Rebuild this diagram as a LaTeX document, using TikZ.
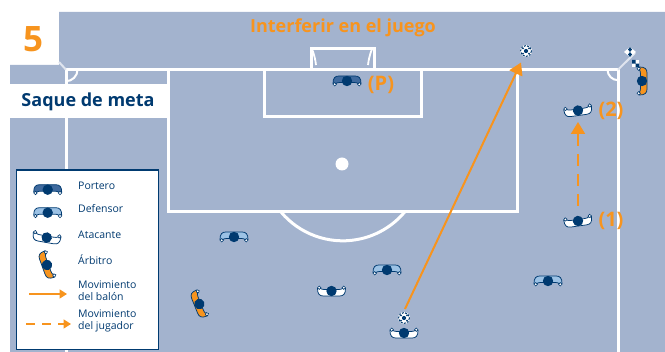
\documentclass[tikz,border=0pt]{standalone}
\usepackage{fontspec}
\setmainfont{Open Sans}
\usetikzlibrary{arrows.meta}
\definecolor{pitch}{HTML}{A3B3CE}
\definecolor{navy}{HTML}{003A70}
\definecolor{org}{HTML}{F7941E}
\definecolor{lblue}{HTML}{9CC2E5}
\definecolor{gkblue}{HTML}{3F6A9E}
\tikzset{
  fieldline/.style={draw=white,line width=3pt},
  lbl/.style={font=\bfseries\fontsize{20}{20}\selectfont,text=org,inner sep=0pt},
  legtext/.style={font=\fontsize{10.5}{12}\selectfont,text=navy,inner sep=0pt,anchor=west,align=left},
  move/.style={draw=org,line width=2pt,-{Triangle[length=12pt,width=14pt]}},
  legmove/.style={draw=org,line width=1.6pt,-{Triangle[length=7.5pt,width=9pt]}},
  flagline/.style={draw=white!65!pitch,line width=2pt},
}
% defender / goalkeeper: x,y,rot,fill
\newcommand{\plyr}[4]{%
 \begin{scope}[shift={(#1,#2)},rotate=#3]
  \path[fill=#4,draw=navy,line width=.75pt] (-14,2.5) .. controls (-14,-3) and (-12,-5) .. (-8,-5) -- (8,-5) .. controls (12,-5) and (14,-3) .. (14,2.5) -- (11,2.5) .. controls (10,1.8) and (9,1.5) .. (7,1.5) -- (-7,1.5) .. controls (-9,1.5) and (-10,1.8) .. (-11,2.5) -- cycle;
  \path[fill=white,draw=navy,line width=.6pt] (-12.3,3.3) circle (1.7) (12.3,3.3) circle (1.7);
  \path[fill=navy] (0,0) circle (5.2);
 \end{scope}}
% attacker / referee: x,y,rot,fill
\newcommand{\atk}[4]{%
 \begin{scope}[shift={(#1,#2)},rotate=#3]
  \path[fill=#4,draw=navy,line width=.75pt] (-14,-2.5) .. controls (-14,3) and (-12,5) .. (-8,5) -- (8,5) .. controls (12,5) and (14,3) .. (14,-2.5) -- (11,-2.5) .. controls (10,-1.8) and (9,-1.5) .. (7,-1.5) -- (-7,-1.5) .. controls (-9,-1.5) and (-10,-1.8) .. (-11,-2.5) -- cycle;
  \path[fill=white,draw=navy,line width=.6pt] (-12.3,-3.3) circle (1.7) (12.3,-3.3) circle (1.7);
  \path[fill=navy] (0,0) circle (5.2);
 \end{scope}}
\newcommand{\ballg}[2]{%
 \begin{scope}[shift={(#1,#2)}]
  \path[fill=white] (0,0) circle (6);
  \path[draw=navy,line width=1pt,dash pattern=on 2pt off 1.3pt] (0,0) circle (5.5);
  \path[fill=navy] (0,0) circle (2.1) (-3,-2.6) circle (1) (3,-2.6) circle (1) (-3,2.6) circle (1) (3,2.6) circle (1);
 \end{scope}}
\begin{document}
\begin{tikzpicture}[x=1pt,y=-1pt]
\useasboundingbox (0,0) rectangle (665,352);
% pitch
\fill[pitch] (59,12) -- (665,12) -- (665,352) -- (10,352) -- (10,65) -- (59,65) -- cycle;
% lines
\draw[fieldline] (66,352) -- (66,69.7) -- (618,69.7) -- (618,352);
\draw[fieldline] (168,69.7) -- (168,211.5) -- (517,211.5) -- (517,69.7);
\draw[fieldline] (264,69.7) -- (264,116.7) -- (421,116.7) -- (421,69.7);
\draw[fieldline] (311,69.7) -- (311,49) -- (374,49) -- (374,69.7);
\draw[draw=white,line width=1.8pt] (312,49) .. controls (314,54) and (315.5,60) .. (316,65);
\draw[draw=white,line width=1.8pt] (372,49) .. controls (370,54) and (368.5,60) .. (368,65);
\draw[draw=white,line width=2pt] (77.5,69.7) arc (0:90:11.5);
\draw[draw=white,line width=2pt] (607.5,69.7) arc (180:90:10.5);
\draw[flagline] (66,69.7) -- (59,62);
\draw[flagline] (618,69.7) -- (635,53);
\draw[fieldline] (281,212) arc (140:40:80.7);
\fill[white] (342,164) circle (6.5);
% header cover
\fill[white] (10,84) rectangle (167,118);
\node[inner sep=0pt,font=\bfseries\fontsize{18}{18}\selectfont,text=navy] (saque) at (88,102) {Saque de meta};
\node[inner sep=0pt,font=\bfseries\fontsize{35}{35}\selectfont,text=org] (num) at (33,39) {5};
\node[inner sep=0pt,font=\bfseries\fontsize{18}{18}\selectfont,text=org] (title) at (343,28) {Interferir en el juego};
% labels
\node[lbl] (p) at (381,85) {(P)};
\node[lbl] (l2) at (611,111) {(2)};
\node[lbl] (l1) at (611,221) {(1)};
% players
\plyr{347}{81}{0}{gkblue}
\plyr{234}{237}{0}{lblue}
\plyr{387}{270}{0}{lblue}
\plyr{548}{281}{0}{lblue}
\atk{331.5}{291}{0}{white}
\atk{404}{333}{0}{white}
\atk{578}{110.5}{8}{white}
\atk{578}{221}{8}{white}
% referees
\atk{199.3}{304}{-68}{org}
\atk{642}{81}{90}{org}
% flag
\fill[white] (630,47) -- (636,52) -- (630,57) -- (624,52) -- cycle;
\fill[navy] (630,47) -- (632,49.5) -- (630,52) -- (628,49.5) -- cycle (630,52) -- (632,54.5) -- (630,57) -- (628,54.5) -- cycle;
\fill[white] (632,60) rectangle (639,67.5);
\fill[navy] (632,60) rectangle (635.5,63.7) (635.5,63.7) rectangle (639,67.5);
% balls
\ballg{526}{51}
\ballg{404}{318}
% moves
\coordinate (bs) at (405,309);
\coordinate (be) at (521,62.5);
\draw[move] (bs) -- (be);
\coordinate (ps) at (578,206);
\coordinate (pe) at (578,122);
\draw[move,dash pattern=on 12pt off 8pt] (ps) -- (pe);
% legend
\node[draw=navy,line width=1.4pt,fill=white,minimum width=142pt,minimum height=179.3pt,inner sep=0pt] (legend) at (87.3,259.7) {};
\plyr{47.7}{189.7}{0}{gkblue}
\plyr{47.7}{212.7}{0}{lblue}
\atk{46.7}{237.5}{-10}{white}
\atk{47}{265}{-70}{org}
\node[legtext] (t1) at (78,186) {Portero};
\node[legtext] (t2) at (78,209) {Defensor};
\node[legtext] (t3) at (78,235) {Atacante};
\node[legtext] (t4) at (78,260) {Árbitro};
\node[legtext] (t5) at (78,291) {Movimiento\\del balón};
\node[legtext] (t6) at (78,321) {Movimiento\\del jugador};
\coordinate (a1) at (29,294);
\coordinate (a2) at (67,294);
\coordinate (b1) at (26,324);
\coordinate (b2) at (71,324);
\draw[legmove] (a1) -- (a2);
\draw[legmove,dash pattern=on 9pt off 7pt] (b1) -- (b2);
\end{tikzpicture}
\end{document}
